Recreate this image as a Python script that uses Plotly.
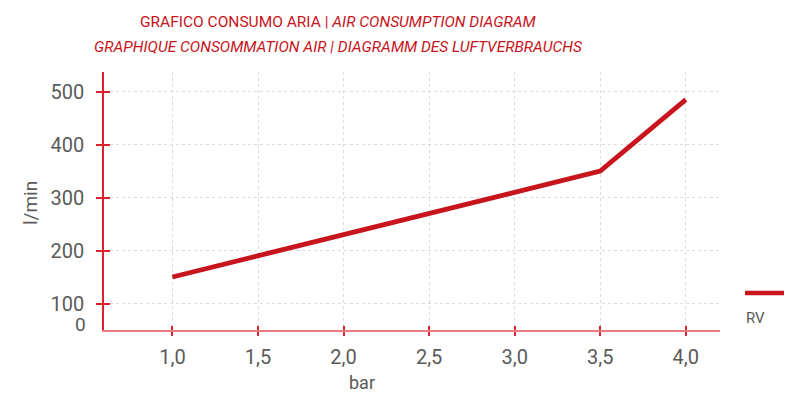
import plotly.graph_objects as go

# data
pressure_bar = [1.0, 1.5, 2.0, 2.5, 3.0, 3.5, 4.0]
consumption_lmin = [150, 190, 230, 270, 310, 350, 485]
ytick_vals = [100, 200, 300, 400, 500]
xtick_vals = [1.0, 1.5, 2.0, 2.5, 3.0, 3.5, 4.0]

red = "#c8141c"
axis_red = "#d9232e"
grey = "#5a5a5a"
font_name = "Roboto, sans-serif"

# the page body adds an 8px offset, so margins are set 8px smaller than the target
W, H = 792, 395
L, T = 96, 64
plot_w, plot_h = 616, 258
R = W - L - plot_w
B = H - T - plot_h
OFF = 8


def px(x):
    # screen pixel -> paper x
    return (x - OFF - L) / plot_w


def py(y):
    # screen pixel -> paper y
    return (T + plot_h - (y - OFF)) / plot_h


fig = go.Figure()

fig.add_trace(go.Scatter(x=pressure_bar, y=consumption_lmin, mode="lines", name="RV",
                         line=dict(color=red, width=4.8), showlegend=False))

# invisible trace on overlaid axes, only used to draw the inner half of the ticks
fig.add_trace(go.Scatter(x=pressure_bar, y=consumption_lmin, mode="lines", xaxis="x2", yaxis="y2",
                         line=dict(color="rgba(0,0,0,0)"), showlegend=False, hoverinfo="skip"))

fig.update_layout(
    width=W, height=H,
    margin=dict(l=L, r=R, t=T, b=B, autoexpand=False),
    paper_bgcolor="white", plot_bgcolor="white",
    font=dict(family=font_name, color=grey),
    separators=",.",
    xaxis=dict(range=[0.6, 4.2], tickvals=xtick_vals, tickformat=".1f",
               showgrid=True, gridcolor="#dcdcdc", griddash="dot", gridwidth=1,
               showline=True, linecolor="rgba(217,35,46,0.6)", linewidth=2,
               ticks="outside", ticklen=4, tickcolor=axis_red, tickwidth=2,
               ticklabelstandoff=4,
               tickfont=dict(size=20, color=grey), zeroline=False),
    yaxis=dict(range=[50, 537], tickvals=ytick_vals,
               showgrid=True, gridcolor="#dcdcdc", griddash="dot", gridwidth=1,
               showline=True, linecolor=axis_red, linewidth=1.5,
               ticks="outside", ticklen=6, tickcolor=axis_red, tickwidth=2,
               ticklabelstandoff=8,
               tickfont=dict(size=20, color=grey), zeroline=False),
    xaxis2=dict(range=[0.6, 4.2], tickvals=xtick_vals, overlaying="x", showticklabels=False,
                showgrid=False, zeroline=False, showline=False, ticks="inside", ticklen=4,
                tickcolor=axis_red, tickwidth=2, side="bottom", anchor="y2"),
    yaxis2=dict(range=[50, 537], tickvals=ytick_vals, overlaying="y", showticklabels=False,
                showgrid=False, zeroline=False, showline=False, ticks="inside", ticklen=6,
                tickcolor=axis_red, tickwidth=2, side="left", anchor="x2"),
    showlegend=False,
    shapes=[
        # legend swatch for RV
        dict(type="line", xref="paper", yref="paper", x0=px(745), x1=px(800),
             y0=py(293), y1=py(293), line=dict(color=red, width=4.5)),
    ],
    annotations=[
        dict(text="GRAFICO CONSUMO ARIA | <i>AIR CONSUMPTION DIAGRAM</i>",
             x=px(338), y=py(22), xref="paper", yref="paper", xanchor="center", yanchor="middle",
             showarrow=False, font=dict(size=15.5, color=red)),
        dict(text="<i>GRAPHIQUE CONSOMMATION AIR | DIAGRAMM DES LUFTVERBRAUCHS</i>",
             x=px(338), y=py(47), xref="paper", yref="paper", xanchor="center", yanchor="middle",
             showarrow=False, font=dict(size=15.5, color=red)),
        dict(text="l/min", x=px(30), y=py(203), xref="paper", yref="paper",
             xanchor="center", yanchor="middle",
             showarrow=False, textangle=-90, font=dict(size=19, color=grey)),
        dict(text="0", x=px(88), y=py(324), xref="paper", yref="paper",
             xanchor="right", yanchor="middle",
             showarrow=False, font=dict(size=19, color=grey)),
        dict(text="bar", x=px(362), y=py(382), xref="paper", yref="paper",
             xanchor="center", yanchor="middle",
             showarrow=False, font=dict(size=18, color=grey)),
        dict(text="RV", x=px(744), y=py(318), xref="paper", yref="paper",
             xanchor="left", yanchor="middle",
             showarrow=False, font=dict(size=15, color=grey)),
    ],
)

fig.write_html("out.html")
